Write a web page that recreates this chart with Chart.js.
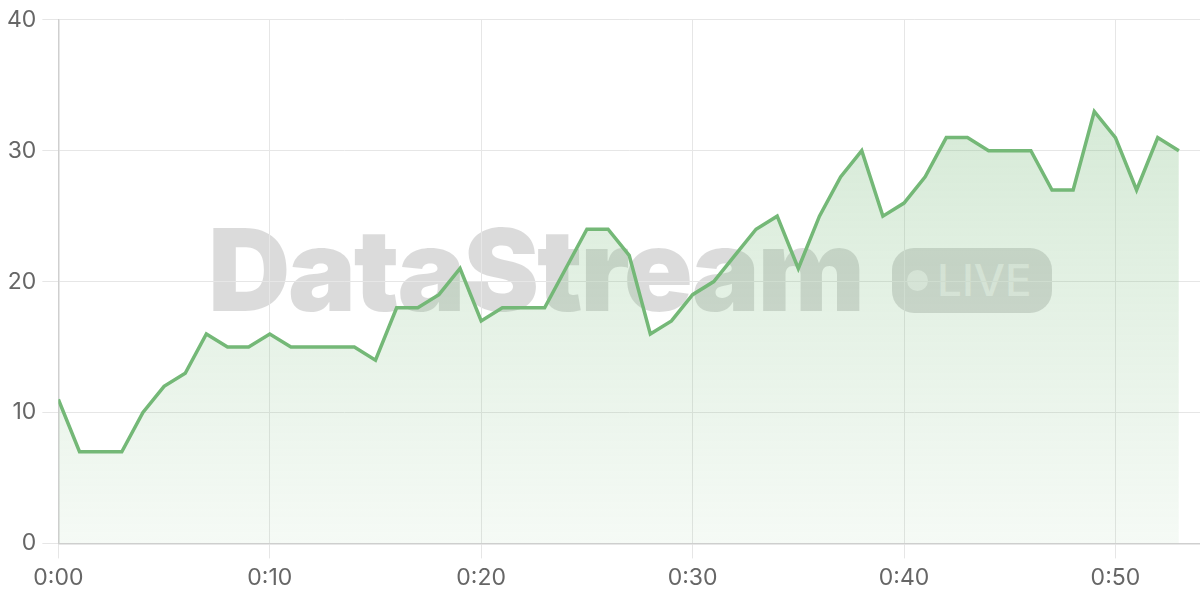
<!DOCTYPE html>
<html>
<head>
<meta charset="utf-8">
<script src="https://cdn.jsdelivr.net/npm/chart.js@4.4.1/dist/chart.umd.min.js"></script>
<style>
  html, body { margin: 0; padding: 0; background: #fff; }
  #wrap { position: relative; width: 1200px; height: 600px; }
  #chart { position: relative; z-index: 1; }
  .wm {
    position: absolute; left: 0; top: 0; z-index: 0;
    font-family: Inter, "Noto Sans", sans-serif;
    pointer-events: none;
  }
  .wm-title {
    position: absolute; left: 208px; top: 200px;
    font-size: 114px; font-weight: 900; line-height: 140px;
    color: rgba(0, 0, 0, 0.14); letter-spacing: -2.3px; white-space: nowrap;
  }
  .wm-pill {
    position: absolute; left: 892px; top: 248px; width: 160px; height: 65px;
    border-radius: 22px; background: rgba(0, 0, 0, 0.14);
  }
  .wm-dot {
    position: absolute; left: 15px; top: 22px; width: 21px; height: 21px;
    border-radius: 50%; background: rgba(255, 255, 255, 0.55);
  }
  .wm-live {
    position: absolute; left: 45px; top: 6px;
    font-size: 44px; font-weight: 500; line-height: 52px;
    color: rgba(255, 255, 255, 0.55); white-space: nowrap;
  }
</style>
</head>
<body>
<div id="wrap">
  <div class="wm">
    <div class="wm-title">DataStream</div>
    <div class="wm-pill"><div class="wm-dot"></div><div class="wm-live">LIVE</div></div>
  </div>
  <canvas id="chart" width="1200" height="600"></canvas>
</div>
<script>
// minutes since start
const minutes = [0, 1, 2, 3, 4, 5, 6, 7, 8, 9, 10, 11, 12, 13, 14, 15, 16, 17, 18, 19,
  20, 21, 22, 23, 24, 25, 26, 27, 28, 29, 30, 31, 32, 33, 34, 35, 36, 37, 38, 39,
  40, 41, 42, 43, 44, 45, 46, 47, 48, 49, 50, 51, 52, 53];

const values = [11, 7, 7, 7, 10, 12, 13, 16, 15, 15, 16, 15, 15, 15, 15, 14, 18, 18, 19, 21,
  17, 18, 18, 18, 21, 24, 24, 22, 16, 17, 19, 20, 22, 24, 25, 21, 25, 28, 30, 25,
  26, 28, 31, 31, 30, 30, 30, 27, 27, 33, 31, 27, 31, 30];

const xTicks = [0, 10, 20, 30, 40, 50];
const xTickLabels = ['0:00', '0:10', '0:20', '0:30', '0:40', '0:50'];
const yTicks = [0, 10, 20, 30, 40];

const lineColor = '#74b877';

const points = minutes.map((m, i) => ({ x: m, y: values[i] }));

const ctx = document.getElementById('chart').getContext('2d');

new Chart(ctx, {
    type: 'line',
    data: {
        datasets: [{
            data: points,
            borderColor: lineColor,
            borderWidth: 3.5,
            pointRadius: 0,
            tension: 0,
            fill: 'origin',
            backgroundColor: function(context) {
                const area = context.chart.chartArea;
                if (!area) return 'rgba(116,184,119,0.2)';
                const g = context.chart.ctx.createLinearGradient(0, area.top, 0, area.bottom);
                g.addColorStop(0, 'rgba(116,184,119,0.34)');
                g.addColorStop(1, 'rgba(116,184,119,0.07)');
                return g;
            }
        }]
    },
    options: {
        responsive: false,
        animation: false,
        layout: { padding: { top: 8, left: 1, right: 0, bottom: 2 } },
        plugins: {
            legend: { display: false },
            tooltip: { enabled: false }
        },
        scales: {
            x: {
                type: 'linear',
                min: 0,
                max: 54,
                afterBuildTicks: function(axis) {
                    axis.ticks = xTicks.map(v => ({ value: v }));
                },
                ticks: {
                    color: '#666',
                    font: { family: 'Inter', size: 23 },
                    padding: 6,
                    maxRotation: 0,
                    callback: function(v) {
                        const i = xTicks.indexOf(v);
                        return i >= 0 ? xTickLabels[i] : '';
                    }
                },
                grid: { color: '#e6e6e6', lineWidth: 1, tickLength: 15 },
                border: { color: '#cfcfcf', width: 1.5 }
            },
            y: {
                min: 0,
                max: 40,
                afterBuildTicks: function(axis) {
                    axis.ticks = yTicks.map(v => ({ value: v }));
                },
                ticks: {
                    color: '#666',
                    font: { family: 'Inter', size: 23 },
                    padding: 6
                },
                grid: { color: '#e6e6e6', lineWidth: 1, tickLength: 16 },
                border: { color: '#cfcfcf', width: 1.5 }
            }
        }
    }
});
</script>
</body>
</html>
